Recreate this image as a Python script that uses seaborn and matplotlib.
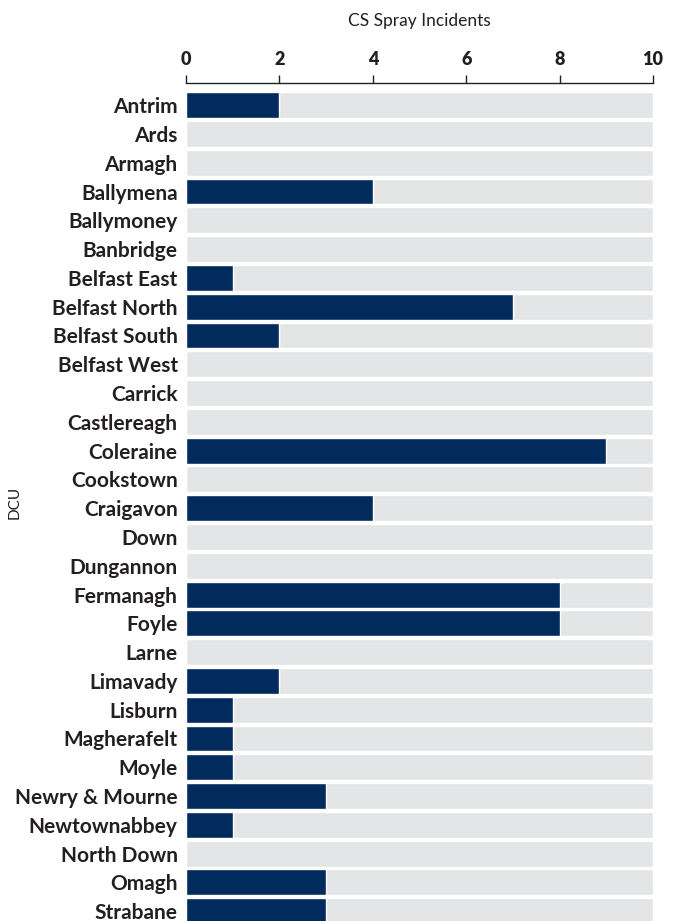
import matplotlib
matplotlib.use("Agg")
import matplotlib.pyplot as plt
import seaborn as sns
import pandas as pd

dcus = ["Antrim", "Ards", "Armagh", "Ballymena", "Ballymoney", "Banbridge",
        "Belfast East", "Belfast North", "Belfast South", "Belfast West",
        "Carrick", "Castlereagh", "Coleraine", "Cookstown", "Craigavon",
        "Down", "Dungannon", "Fermanagh", "Foyle", "Larne", "Limavady",
        "Lisburn", "Magherafelt", "Moyle", "Newry & Mourne", "Newtownabbey",
        "North Down", "Omagh", "Strabane"]
incidents = [2, 0, 0, 4, 0, 0, 1, 7, 2, 0, 0, 0, 9, 0, 4, 0, 0, 8, 8, 0, 2,
             1, 1, 1, 3, 1, 0, 3, 3]
axis_max = 10
ticks = [0, 2, 4, 6, 8, 10]

df = pd.DataFrame({"DCU": dcus, "CS Spray Incidents": incidents,
                   "bg": [axis_max] * len(dcus)})

sns.set_style("white")
plt.rcParams["font.family"] = ["Lato", "DejaVu Sans"]

fig = plt.figure(figsize=(6.79, 9.21), dpi=100)
ax = fig.add_axes([186 / 679, 0.0, (653 - 186) / 679, 1 - 83 / 921])

sns.barplot(data=df, y="DCU", x="bg", orient="h", color="#e4e5e6",
            width=0.9, ax=ax, saturation=1)
sns.barplot(data=df, y="DCU", x="CS Spray Incidents", orient="h",
            color="#002b5c", width=0.9, ax=ax, saturation=1)

ax.set_xlim(0, axis_max)
ax.set_ylim(28.34, -0.77)
ax.xaxis.tick_top()
ax.xaxis.set_label_position("top")
ax.set_xticks(ticks)
ax.set_xticklabels([str(t) for t in ticks], fontsize=13, fontweight="heavy",
                   color="#231f20")
ax.tick_params(axis="x", which="both", length=6, width=1, color="#231f20",
               direction="out", pad=5, top=True, bottom=False)
ax.tick_params(axis="y", length=0, pad=6)
for lbl in ax.get_yticklabels():
    lbl.set_fontweight("bold")
    lbl.set_fontsize(15)
    lbl.set_color("#231f20")
ax.set_xlabel("CS Spray Incidents", fontsize=12.5, color="#231f20",
              labelpad=18)
ax.set_ylabel("DCU", fontsize=11, color="#231f20")
ax.yaxis.set_label_coords((22 - 186) / 467, 0.5)

for s in ["left", "right", "bottom"]:
    ax.spines[s].set_visible(False)
ax.spines["top"].set_visible(True)
ax.spines["top"].set_color("#231f20")
ax.spines["top"].set_linewidth(1)

fig.savefig("out.png", dpi=100)
